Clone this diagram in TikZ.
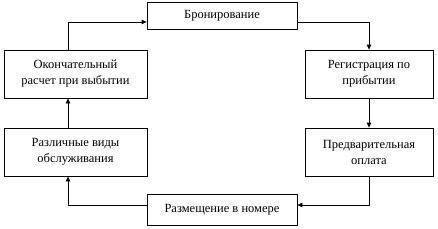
\documentclass[tikz,border=0pt]{standalone}
\usepackage{fontspec}
\setmainfont{Liberation Serif}
\usetikzlibrary{arrows.meta, positioning, calc}

\begin{document}
\begin{tikzpicture}[x=1pt, y=-1pt,
    stage/.style={draw, line width=0.8pt, align=center, font=\fontsize{12.5}{16}\selectfont, inner sep=0pt},
    flow/.style={-{Triangle[length=5pt, width=4.5pt]}, line width=0.8pt}]
    \useasboundingbox (0,0) rectangle (438,228);
    % stages of the guest cycle
    \node[stage, minimum width=150pt, minimum height=27pt] (book) at (222,15.5) {Бронирование};
    \node[stage, minimum width=128pt, minimum height=48pt] (reg) at (369,74) {Регистрация по\\прибытии};
    \node[stage, minimum width=128pt, minimum height=48pt] (pay) at (369,152) {Предварительная\\оплата};
    \node[stage, minimum width=150pt, minimum height=31pt] (room) at (222,209.5) {Размещение в номере};
    \node[stage, minimum width=143pt, minimum height=48pt] (serv) at (75.5,152) {Различные виды\\обслуживания};
    \node[stage, minimum width=143pt, minimum height=48pt] (final) at (75.5,74) {Окончательный\\расчет при выбытии};
    % connectors
    \draw[flow] ($(book.east)+(0,6.5)$) -| (reg.north);
    \draw[flow] (reg) -- (pay);
    \draw[flow] (pay.south) |- ($(room.east)+(0,-4.5)$);
    \draw[flow] ($(room.west)+(0,-4.5)$) -| ($(serv.south)+(-7.5,0)$);
    \draw[flow] ($(serv.north)+(-7.5,0)$) -- ($(final.south)+(-7.5,0)$);
    \draw[flow] ($(final.north)+(-7.5,0)$) |- ($(book.west)+(0,6.5)$);
\end{tikzpicture}
\end{document}
